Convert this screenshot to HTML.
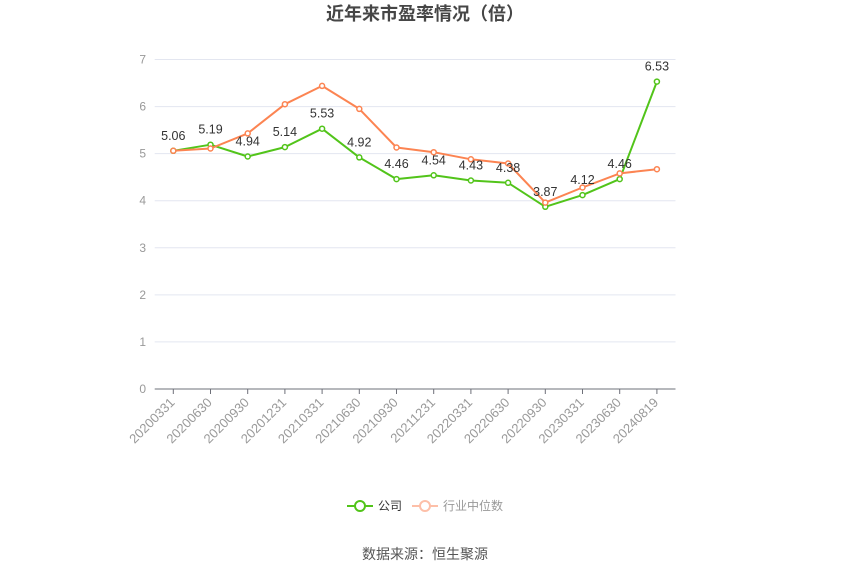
<!DOCTYPE html>
<html><head><meta charset="utf-8"><style>
html,body{margin:0;padding:0;background:#fff;}
svg{display:block;font-family:"Liberation Sans","Noto Sans CJK SC",sans-serif;}
</style></head><body>
<svg width="850" height="575" viewBox="0 0 850 575" xmlns="http://www.w3.org/2000/svg">
<text x="425" y="20" text-anchor="middle" font-size="18" font-weight="bold" fill="#464646" font-family="'Liberation Sans','Noto Sans CJK SC',sans-serif">近年来市盈率情况（倍）</text>
<g stroke="#e3e6f0" stroke-width="1">
<line x1="154.7" y1="59.5" x2="675.5" y2="59.5"/>
<line x1="154.7" y1="106.6" x2="675.5" y2="106.6"/>
<line x1="154.7" y1="153.6" x2="675.5" y2="153.6"/>
<line x1="154.7" y1="200.7" x2="675.5" y2="200.7"/>
<line x1="154.7" y1="247.8" x2="675.5" y2="247.8"/>
<line x1="154.7" y1="294.9" x2="675.5" y2="294.9"/>
<line x1="154.7" y1="341.9" x2="675.5" y2="341.9"/>
</g>
<g font-size="12" fill="#999" text-anchor="end">
<text x="146" y="63.5">7</text>
<text x="146" y="110.6">6</text>
<text x="146" y="157.6">5</text>
<text x="146" y="204.7">4</text>
<text x="146" y="251.8">3</text>
<text x="146" y="298.9">2</text>
<text x="146" y="345.9">1</text>
<text x="146" y="393">0</text>
</g>
<line x1="154.7" y1="389" x2="675.5" y2="389" stroke="#6e7079" stroke-width="1"/>
<g stroke="#6e7079" stroke-width="1">
<line x1="173.3" y1="389" x2="173.3" y2="394"/><line x1="210.5" y1="389" x2="210.5" y2="394"/><line x1="247.7" y1="389" x2="247.7" y2="394"/><line x1="284.9" y1="389" x2="284.9" y2="394"/><line x1="322.1" y1="389" x2="322.1" y2="394"/><line x1="359.3" y1="389" x2="359.3" y2="394"/><line x1="396.5" y1="389" x2="396.5" y2="394"/><line x1="433.7" y1="389" x2="433.7" y2="394"/><line x1="470.9" y1="389" x2="470.9" y2="394"/><line x1="508.1" y1="389" x2="508.1" y2="394"/><line x1="545.3" y1="389" x2="545.3" y2="394"/><line x1="582.5" y1="389" x2="582.5" y2="394"/><line x1="619.7" y1="389" x2="619.7" y2="394"/><line x1="656.9" y1="389" x2="656.9" y2="394"/>
</g>
<g font-size="13" fill="#999" text-anchor="end">
<text transform="translate(172.3,400) rotate(-45)" dy="0.35em">20200331</text>
<text transform="translate(209.5,400) rotate(-45)" dy="0.35em">20200630</text>
<text transform="translate(246.7,400) rotate(-45)" dy="0.35em">20200930</text>
<text transform="translate(283.9,400) rotate(-45)" dy="0.35em">20201231</text>
<text transform="translate(321.1,400) rotate(-45)" dy="0.35em">20210331</text>
<text transform="translate(358.3,400) rotate(-45)" dy="0.35em">20210630</text>
<text transform="translate(395.5,400) rotate(-45)" dy="0.35em">20210930</text>
<text transform="translate(432.7,400) rotate(-45)" dy="0.35em">20211231</text>
<text transform="translate(469.9,400) rotate(-45)" dy="0.35em">20220331</text>
<text transform="translate(507.1,400) rotate(-45)" dy="0.35em">20220630</text>
<text transform="translate(544.3,400) rotate(-45)" dy="0.35em">20220930</text>
<text transform="translate(581.5,400) rotate(-45)" dy="0.35em">20230331</text>
<text transform="translate(618.7,400) rotate(-45)" dy="0.35em">20230630</text>
<text transform="translate(655.9,400) rotate(-45)" dy="0.35em">20240819</text>
</g>
<polyline fill="none" stroke="#52c41a" stroke-width="2" stroke-linejoin="round" points="173.3,150.8 210.5,144.7 247.7,156.5 284.9,147.1 322.1,128.7 359.3,157.4 396.5,179.1 433.7,175.3 470.9,180.5 508.1,182.8 545.3,206.8 582.5,195.1 619.7,179.1 656.9,81.6"/>
<polyline fill="none" stroke="#fc8452" stroke-width="2" stroke-linejoin="round" points="173.3,150.8 210.5,148.5 247.7,133.4 284.9,104.2 322.1,85.9 359.3,108.9 396.5,147.5 433.7,152.2 470.9,159.3 508.1,163.5 545.3,202.6 582.5,187.5 619.7,173.4 656.9,169.2"/>
<g fill="#fff" stroke="#52c41a" stroke-width="1.5">
<circle cx="173.3" cy="150.8" r="2.5"/><circle cx="210.5" cy="144.7" r="2.5"/><circle cx="247.7" cy="156.5" r="2.5"/><circle cx="284.9" cy="147.1" r="2.5"/><circle cx="322.1" cy="128.7" r="2.5"/><circle cx="359.3" cy="157.4" r="2.5"/><circle cx="396.5" cy="179.1" r="2.5"/><circle cx="433.7" cy="175.3" r="2.5"/><circle cx="470.9" cy="180.5" r="2.5"/><circle cx="508.1" cy="182.8" r="2.5"/><circle cx="545.3" cy="206.8" r="2.5"/><circle cx="582.5" cy="195.1" r="2.5"/><circle cx="619.7" cy="179.1" r="2.5"/><circle cx="656.9" cy="81.6" r="2.5"/>
</g>
<g fill="#fff" stroke="#fc8452" stroke-width="1.5">
<circle cx="173.3" cy="150.8" r="2.5"/><circle cx="210.5" cy="148.5" r="2.5"/><circle cx="247.7" cy="133.4" r="2.5"/><circle cx="284.9" cy="104.2" r="2.5"/><circle cx="322.1" cy="85.9" r="2.5"/><circle cx="359.3" cy="108.9" r="2.5"/><circle cx="396.5" cy="147.5" r="2.5"/><circle cx="433.7" cy="152.2" r="2.5"/><circle cx="470.9" cy="159.3" r="2.5"/><circle cx="508.1" cy="163.5" r="2.5"/><circle cx="545.3" cy="202.6" r="2.5"/><circle cx="582.5" cy="187.5" r="2.5"/><circle cx="619.7" cy="173.4" r="2.5"/><circle cx="656.9" cy="169.2" r="2.5"/>
</g>
<g font-size="12.5" fill="#333" text-anchor="middle">
<text x="173.3" y="140">5.06</text>
<text x="210.5" y="133.7">5.19</text>
<text x="247.7" y="145.5">4.94</text>
<text x="284.9" y="136.1">5.14</text>
<text x="322.1" y="117.7">5.53</text>
<text x="359.3" y="146.4">4.92</text>
<text x="396.5" y="168.1">4.46</text>
<text x="433.7" y="164.3">4.54</text>
<text x="470.9" y="169.5">4.43</text>
<text x="508.1" y="171.8">4.38</text>
<text x="545.3" y="195.8">3.87</text>
<text x="582.5" y="184.1">4.12</text>
<text x="619.7" y="168.1">4.46</text>
<text x="656.9" y="70.6">6.53</text>
</g>
<line x1="347" y1="506" x2="373" y2="506" stroke="#52c41a" stroke-width="2"/>
<circle cx="360" cy="506" r="5" fill="#fff" stroke="#52c41a" stroke-width="2"/>
<text x="378" y="510" font-size="12" fill="#333">公司</text>
<line x1="412" y1="506" x2="438" y2="506" stroke="#fdbfa8" stroke-width="2"/>
<circle cx="425" cy="506" r="5" fill="#fff" stroke="#fdbfa8" stroke-width="2"/>
<text x="443" y="510" font-size="12" fill="#999">行业中位数</text>
<text x="425" y="559" text-anchor="middle" font-size="14" fill="#555">数据来源：恒生聚源</text>
</svg>
</body></html>
